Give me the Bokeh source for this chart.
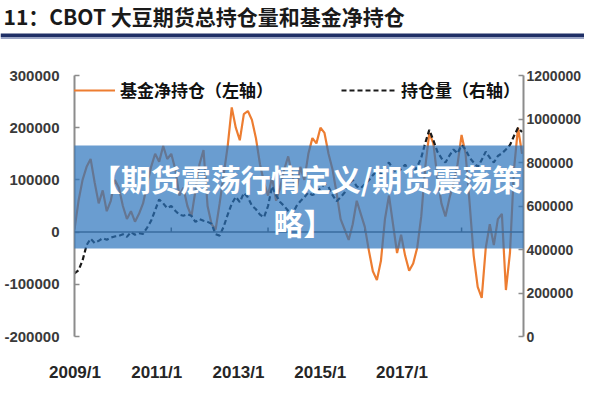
from bokeh.plotting import figure
from bokeh.layouts import column
from bokeh.models import (LinearAxis, Range1d, FixedTicker, NumeralTickFormatter,
                          BoxAnnotation, Label, Legend, LegendItem, Span)
from bokeh.embed import file_html
from bokeh.resources import INLINE

# ---------------- texts ----------------
title_text = "11：CBOT 大豆期货总持仓量和基金净持仓"
banner_line1 = "【期货震荡行情定义/期货震荡策"
banner_line2 = "略】"
series_names = ["基金净持仓（左轴）", "持仓量（右轴）"]

# ---------------- ticks ----------------
x_tick_years = [2009, 2011, 2013, 2015, 2017]
x_tick_labels = ["2009/1", "2011/1", "2013/1", "2015/1", "2017/1"]
left_ticks = [-200000, -100000, 0, 100000, 200000, 300000]
right_ticks = [0, 200000, 400000, 600000, 800000, 1000000, 1200000]

# ---------------- data (monthly) ----------------
fund_net = {
    2009: [5000, 60000, 100000, 125000, 140000, 95000, 55000, 80000, 40000, 60000, 100000, 85000],
    2010: [50000, 25000, 40000, 20000, 35000, 55000, 90000, 125000, 150000, 135000, 165000, 140000],
    2011: [150000, 120000, 70000, 85000, 50000, 30000, 80000, 130000, 157000, 50000, 15000, 5000],
    2012: [55000, 110000, 165000, 239000, 200000, 176000, 226000, 232000, 215000, 180000, 130000, 95000],
    2013: [70000, 105000, 60000, 85000, 120000, 145000, 110000, 75000, 125000, 100000, 150000, 180000],
    2014: [170000, 200000, 190000, 150000, 120000, 75000, 25000, 5000, -15000, 15000, 60000, 35000],
    2015: [10000, -35000, -75000, -92000, -55000, 25000, 70000, 15000, -40000, -5000, -45000, -74000],
    2016: [-60000, -30000, 30000, 125000, 190000, 170000, 105000, 55000, 30000, 65000, 95000, 130000],
    2017: [186000, 150000, 55000, -45000, -105000, -126000, -30000, 15000, -25000, 25000, 35000, -111000],
    2018: [-40000, 120000, 200000, 150000],
}
open_interest = {
    2009: [290000, 305000, 350000, 420000, 450000, 430000, 440000, 452000, 445000, 455000, 460000, 463000],
    2010: [470000, 458000, 480000, 468000, 475000, 472000, 500000, 532000, 580000, 630000, 612000, 590000],
    2011: [600000, 578000, 560000, 555000, 562000, 555000, 527000, 540000, 532000, 527000, 518000, 470000],
    2012: [464000, 505000, 560000, 610000, 642000, 618000, 660000, 640000, 602000, 585000, 560000, 548000],
    2013: [600000, 690000, 650000, 618000, 600000, 578000, 560000, 598000, 622000, 640000, 662000, 650000],
    2014: [660000, 682000, 700000, 688000, 650000, 622000, 640000, 662000, 700000, 720000, 690000, 682000],
    2015: [700000, 718000, 742000, 760000, 748000, 780000, 800000, 770000, 752000, 770000, 790000, 762000],
    2016: [752000, 780000, 822000, 890000, 950000, 902000, 850000, 820000, 800000, 832000, 860000, 842000],
    2017: [880000, 860000, 822000, 800000, 780000, 812000, 850000, 822000, 800000, 830000, 842000, 860000],
    2018: [880000, 922000, 960000, 940000],
}

xs, fund_vals, oi_vals = [], [], []
for yr in sorted(fund_net):
    for m, (f, o) in enumerate(zip(fund_net[yr], open_interest[yr])):
        xs.append(yr + m / 12.0)
        fund_vals.append(f)
        oi_vals.append(o)

W = 584
HEAD_H = 42
MAIN_H = 342

# ---------------- header (title + rule) ----------------
head = figure(width=W, height=HEAD_H, output_backend="svg", toolbar_location=None,
              x_range=Range1d(0, W), y_range=Range1d(0, HEAD_H),
              x_axis_location=None, y_axis_location=None,
              min_border=0, min_border_left=0, min_border_right=0,
              min_border_top=0, min_border_bottom=0)
head.frame_align = False
head.grid.visible = False
head.outline_line_color = None
head.add_layout(Label(x=3, y=27, text=title_text, text_align="left", text_baseline="middle",
                      text_font="Noto Sans CJK SC", text_font_size="21px",
                      text_font_style="bold", text_color="#1a1a1a"))
head.add_layout(BoxAnnotation(left=0, right=W, top=9, bottom=5.5,
                              fill_color="#1f2f66", fill_alpha=1, line_color=None))
head.add_layout(BoxAnnotation(left=0, right=W, top=5.5, bottom=3.5,
                              fill_color="#9aa4c4", fill_alpha=1, line_color=None))

# ---------------- main chart ----------------
p = figure(width=W, height=MAIN_H, output_backend="svg", toolbar_location=None,
           x_range=Range1d(2009.0, 2018.28), y_range=Range1d(-200000, 300000),
           x_axis_location=None, y_axis_location="left",
           min_border_left=74, min_border_right=59, min_border_top=33, min_border_bottom=45,
           background_fill_color="white", border_fill_color="white")
p.frame_align = False
p.extra_y_ranges = {"oi": Range1d(0, 1200000)}
p.extra_x_ranges = {"lab": Range1d(2008.988, 2019.972)}
p.grid.visible = False
p.outline_line_color = None

tick_font = "Liberation Sans"
axis_gray = "#8c8c8c"

ly = p.yaxis[0]
ly.ticker = FixedTicker(ticks=left_ticks)
ly.formatter = NumeralTickFormatter(format="0")
ly.axis_line_color = axis_gray
ly.axis_line_width = 2
ly.major_tick_line_color = axis_gray
ly.major_tick_line_width = 1.5
ly.major_tick_in = 5
ly.major_tick_out = 0
ly.minor_tick_line_color = None
ly.major_label_text_font = tick_font
ly.major_label_text_font_size = "15px"
ly.major_label_text_font_style = "bold"
ly.major_label_text_color = "#3a3a3a"
ly.major_label_standoff = 15

ry = LinearAxis(y_range_name="oi", ticker=FixedTicker(ticks=right_ticks),
                formatter=NumeralTickFormatter(format="0"))
ry.axis_line_color = axis_gray
ry.axis_line_width = 2
ry.major_tick_line_color = axis_gray
ry.major_tick_line_width = 1.5
ry.major_tick_in = 5
ry.major_tick_out = 0
ry.minor_tick_line_color = None
ry.major_label_text_font = tick_font
ry.major_label_text_font_size = "14px"
ry.major_label_text_font_style = "bold"
ry.major_label_text_color = "#3a3a3a"
ry.major_label_standoff = 3
p.add_layout(ry, "right")

bx = LinearAxis(x_range_name="lab", ticker=FixedTicker(ticks=x_tick_years),
                major_label_overrides={t: s for t, s in zip(x_tick_years, x_tick_labels)})
bx.axis_line_color = None
bx.major_tick_line_color = None
bx.minor_tick_line_color = None
bx.major_label_text_font = tick_font
bx.major_label_text_font_size = "17px"
bx.major_label_text_font_style = "bold"
bx.major_label_text_color = "#262626"
bx.major_label_standoff = 20
p.add_layout(bx, "below")

# zero line with small ticks
p.add_layout(Span(location=0, dimension="width", line_color="#595959", line_width=1.5))
p.segment(x0=x_tick_years[1:], y0=[0] * 4, x1=x_tick_years[1:], y1=[9000] * 4,
          line_color="#595959", line_width=1.5)

r_fund = p.line(xs, fund_vals, line_color="#ed7d31", line_width=2.2)
r_oi = p.line(xs, oi_vals, y_range_name="oi", line_color="#1a1a1a", line_width=2.2, line_dash="5 3")

legend = Legend(items=[LegendItem(label=series_names[0], renderers=[r_fund]),
                       LegendItem(label=series_names[1], renderers=[r_oi])],
                orientation="horizontal", location=(-14, 234),
                background_fill_alpha=0, border_line_color=None,
                label_text_font="Noto Sans CJK SC", label_text_font_size="17px",
                label_text_font_style="bold", label_text_color="#111111",
                glyph_width=55, glyph_height=20, label_height=20, label_standoff=5,
                spacing=68, padding=0, margin=0)
p.add_layout(legend)

# banner overlay
p.add_layout(BoxAnnotation(left=-74, right=W - 74, top=191, bottom=88,
                           left_units="screen", right_units="screen",
                           top_units="screen", bottom_units="screen",
                           fill_color="#2b74bc", fill_alpha=0.7, line_color=None, level="overlay"))
for txt, yy, xx in ((banner_line1, 159, 232), (banner_line2, 115, 229)):
    p.add_layout(Label(x=xx, y=yy, x_units="screen", y_units="screen", text=txt,
                       text_align="center", text_baseline="middle", text_font="Noto Sans CJK SC",
                       text_font_size="30px", text_font_style="bold", text_color="white",
                       level="overlay"))

layout = column(head, p, spacing=0)
open("out.html", "w").write(file_html(layout, INLINE))
